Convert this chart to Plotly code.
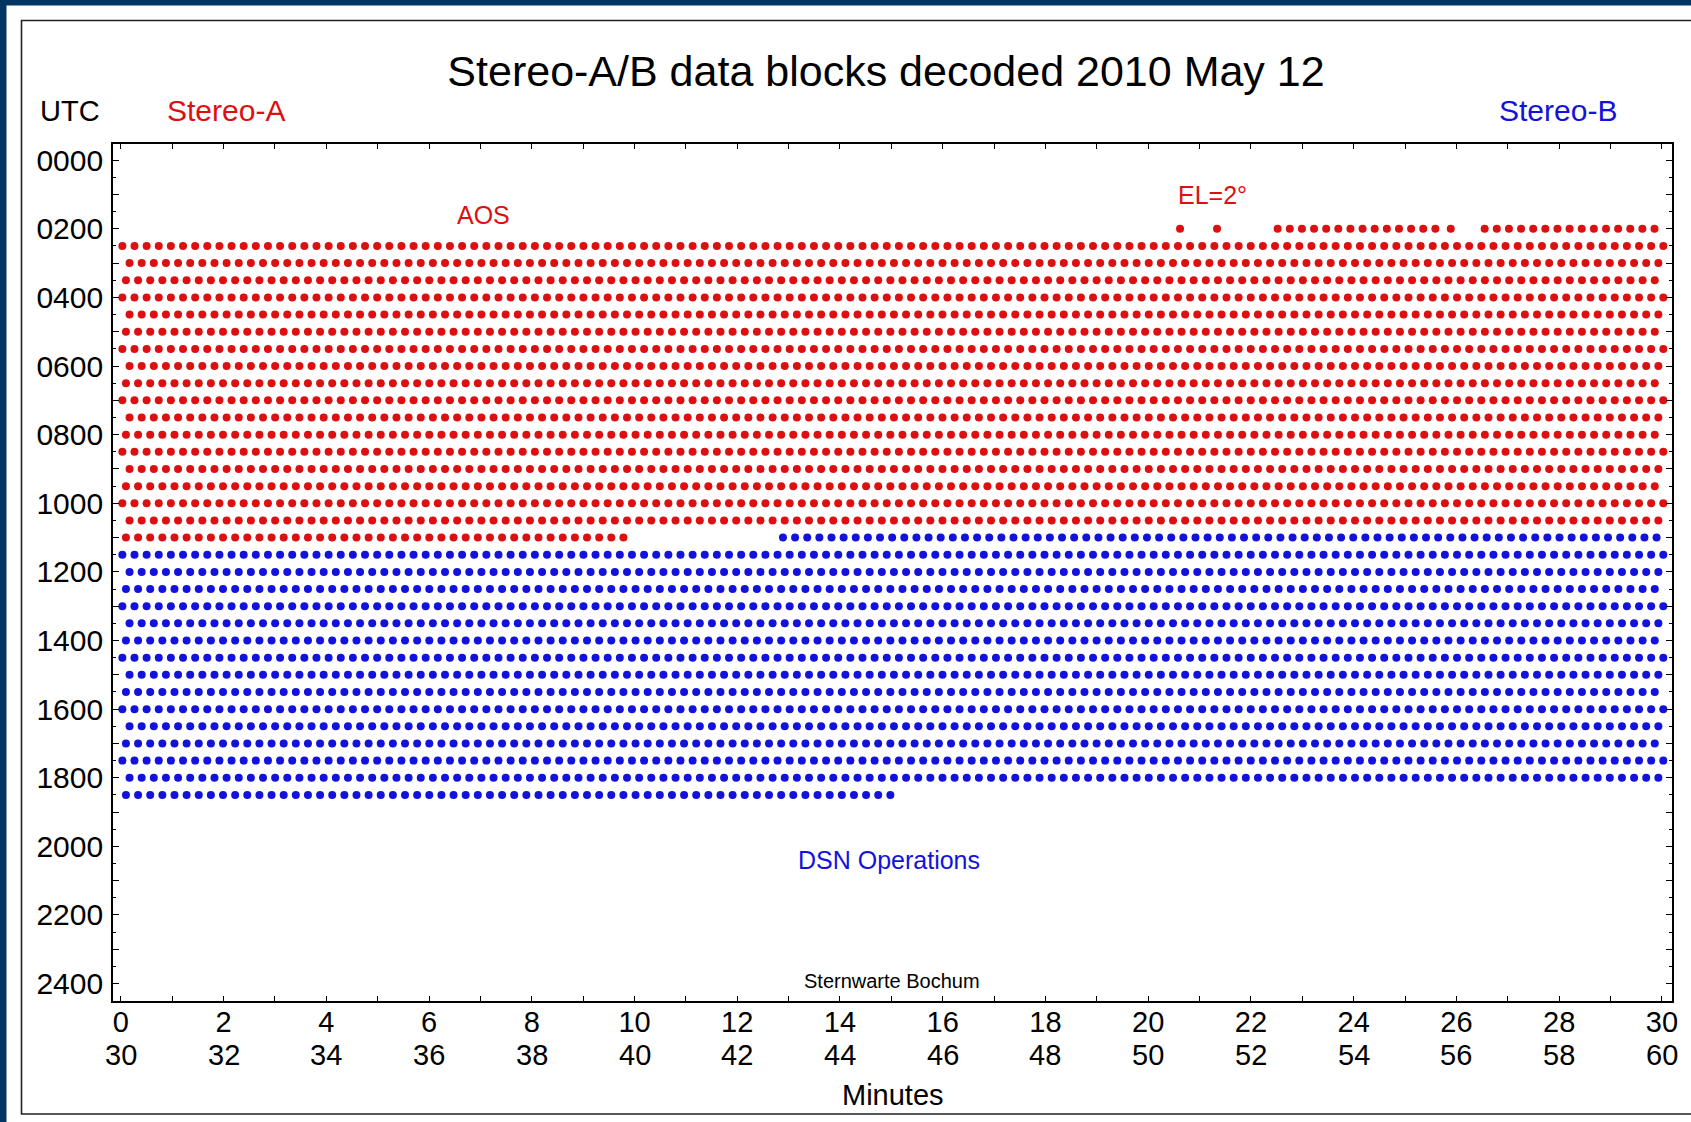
import numpy as np
import plotly.graph_objects as go

# ---------------- data ----------------
# one decoded data block every ~14.2 s (0.2362 min)
block_cadence_min = 0.2362

# Stereo-A (red): complete half-hour rows (row start, UTC hours) with first / last block minute
stereo_a_rows_utc = [2.5, 3.0, 3.5, 4.0, 4.5, 5.0, 5.5, 6.0, 6.5, 7.0, 7.5, 8.0, 8.5,
                     9.0, 9.5, 10.0, 10.5]
stereo_a_first_min = [0.03, 0.17, 0.10, 0.03, 0.17, 0.10, 0.03, 0.17, 0.10, 0.03, 0.17,
                      0.10, 0.03, 0.17, 0.10, 0.03, 0.17]
stereo_a_last_min = [30.00, 29.93, 29.85, 30.00, 29.93, 29.85, 30.00, 29.93, 29.85, 30.00,
                     29.93, 29.85, 30.00, 29.93, 29.85, 30.00, 29.93]
# Stereo-A partial runs (AOS row and LOS row)
stereo_a_runs_utc = [2.0, 2.0, 2.0, 2.0, 2.0, 11.0]
stereo_a_runs_first = [20.62, 21.34, 22.52, 25.89, 26.55, 0.10]
stereo_a_runs_last = [20.62, 21.34, 25.59, 25.89, 29.85, 9.81]

# Stereo-B (blue): complete rows
stereo_b_rows_utc = [11.5, 12.0, 12.5, 13.0, 13.5, 14.0, 14.5, 15.0, 15.5, 16.0, 16.5,
                     17.0, 17.5, 18.0]
stereo_b_first_min = [0.03, 0.17, 0.10, 0.03, 0.17, 0.10, 0.03, 0.17, 0.10, 0.03, 0.17,
                      0.10, 0.03, 0.17]
stereo_b_last_min = [30.00, 29.93, 29.85, 30.00, 29.93, 29.85, 30.00, 29.93, 29.85, 30.00,
                     29.93, 29.85, 30.00, 29.93]
# Stereo-B partial runs
stereo_b_runs_utc = [11.0, 18.5]
stereo_b_runs_first = [12.89, 0.10]
stereo_b_runs_last = [29.85, 15.00]

x_tick_minutes = list(range(0, 31))
y_tick_hours = list(range(0, 25))
y_minor_hours = [h + 0.5 for h in range(0, 24)]

RED = "#DC1010"
BLUE = "#1212DC"
NAVY = "#023564"
FONT = "Liberation Sans, Arial, Helvetica, sans-serif"


def collect(rows, firsts, lasts):
    xs, ys = [], []
    for r, f, l in zip(rows, firsts, lasts):
        pts = np.arange(f, l + block_cadence_min / 2, block_cadence_min)
        xs.extend(pts.tolist())
        ys.extend([r] * len(pts))
    return xs, ys


ax1, ay1 = collect(stereo_a_rows_utc, stereo_a_first_min, stereo_a_last_min)
ax2, ay2 = collect(stereo_a_runs_utc, stereo_a_runs_first, stereo_a_runs_last)
bx1, by1 = collect(stereo_b_rows_utc, stereo_b_first_min, stereo_b_last_min)
bx2, by2 = collect(stereo_b_runs_utc, stereo_b_runs_first, stereo_b_runs_last)

# ---------------- layout geometry (pixels) ----------------
W_PX, H_PX = 1691, 1122
L, R, T, B = 113, 1672, 144, 1001
PW, PH = R - L, B - T


def px(x):
    return (x - L) / PW


def py(y):
    return (B - y) / PH


fig = go.Figure()
fig.add_trace(go.Scatter(x=ax1 + ax2, y=ay1 + ay2, mode="markers", name="Stereo-A",
                         marker=dict(size=8, color=RED, line=dict(width=0)),
                         hoverinfo="skip"))
fig.add_trace(go.Scatter(x=bx1 + bx2, y=by1 + by2, mode="markers", name="Stereo-B",
                         marker=dict(size=8, color=BLUE, line=dict(width=0)),
                         hoverinfo="skip"))

x_ticktext = [str(m) if m % 2 == 0 else "" for m in x_tick_minutes]
y_ticktext = ["%02d00" % h if h % 2 == 0 else "" for h in y_tick_hours]

annotations = []
# second line of x labels (30..60)
for m in x_tick_minutes:
    if m % 2 == 0:
        annotations.append(dict(x=m, y=py(1055), xref="x", yref="paper", text=str(m + 30),
                                showarrow=False, yanchor="middle", xanchor="center",
                                font=dict(family=FONT, size=29, color="black")))

texts = [
    ("UTC", 70, 111, 29, "black"),
    ("Stereo-A", 226, 110, 30, RED),
    ("Stereo-B", 1558, 110, 30, BLUE),
    ("Minutes", 893, 1095, 29, "black"),
]
for t, x, y, s, c in texts:
    annotations.append(dict(x=px(x), y=py(y), xref="paper", yref="paper", text=t,
                            showarrow=False, xanchor="center", yanchor="middle",
                            font=dict(family=FONT, size=s, color=c)))

data_texts = [
    ("AOS", 7.07, 1.61, 25, RED),
    ("EL=2°", 21.26, 1.0, 25, RED),
    ("DSN Operations", 14.95, 20.4, 25, BLUE),
    ("Sternwarte Bochum", 15.01, 23.92, 20, "black"),
]
for t, x, y, s, c in data_texts:
    annotations.append(dict(x=x, y=y, xref="x", yref="y", text=t, showarrow=False,
                            xanchor="center", yanchor="middle",
                            font=dict(family=FONT, size=s, color=c)))

shapes = [
    # navy page edges
    dict(type="rect", xref="paper", yref="paper", x0=px(-10), x1=px(6.5), y0=py(1140), y1=py(-10),
         fillcolor=NAVY, line=dict(width=0), layer="above"),
    dict(type="rect", xref="paper", yref="paper", x0=px(-10), x1=px(1710), y0=py(5.5), y1=py(-10),
         fillcolor=NAVY, line=dict(width=0), layer="above"),
    # black outer frame
    dict(type="rect", xref="paper", yref="paper", x0=px(21.5), x1=px(1720), y0=py(1114), y1=py(20.5),
         fillcolor="rgba(0,0,0,0)", line=dict(color="#222222", width=1.6), layer="above"),
]

fig.update_layout(
    width=W_PX, height=H_PX,
    margin=dict(l=L, r=W_PX - R, t=T, b=H_PX - B, autoexpand=False),
    paper_bgcolor="white", plot_bgcolor="white",
    showlegend=False,
    title=dict(text="Stereo-A/B data blocks decoded 2010 May 12",
               x=px(886), xref="paper", xanchor="center",
               y=1 - 71 / H_PX, yref="container", yanchor="middle",
               font=dict(family=FONT, size=43, color="black")),
    annotations=annotations,
    shapes=shapes,
    font=dict(family=FONT, color="black"),
)

fig.update_xaxes(
    range=[-0.152, 30.197], tickmode="array", tickvals=x_tick_minutes, ticktext=x_ticktext,
    ticks="inside", ticklen=5, tickwidth=1.3, tickcolor="black",
    showline=True, linecolor="black", linewidth=1.6, mirror="ticks",
    showgrid=False, zeroline=False,
    tickfont=dict(family=FONT, size=29, color="black"), ticklabelstandoff=-6,
)
fig.update_yaxes(
    range=[24.507, -0.472], tickmode="array", tickvals=y_tick_hours, ticktext=y_ticktext,
    ticks="inside", ticklen=6, tickwidth=1.3, tickcolor="black",
    minor=dict(tickmode="array", tickvals=y_minor_hours, ticks="inside", ticklen=3,
               tickwidth=1.2, tickcolor="black", showgrid=False),
    showline=True, linecolor="black", linewidth=1.6, mirror="ticks",
    showgrid=False, zeroline=False,
    tickfont=dict(family=FONT, size=30, color="black"), ticklabelstandoff=2,
)

fig.write_html("out.html")
